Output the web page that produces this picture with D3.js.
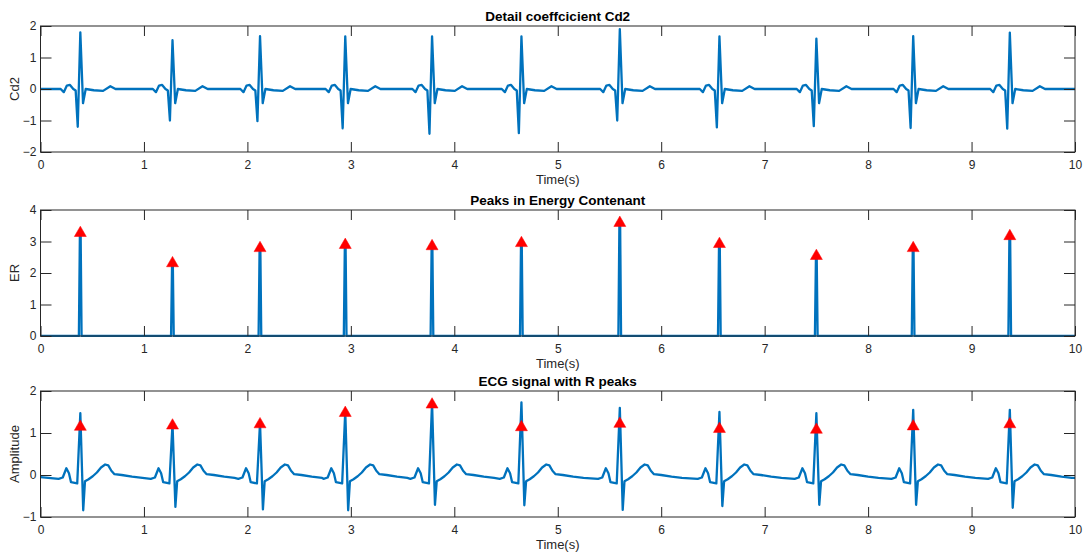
<!DOCTYPE html>
<html>
<head>
<meta charset="utf-8">
<script src="https://cdn.jsdelivr.net/npm/d3@7"></script>
<style>
  html, body { margin: 0; padding: 0; background: #fff; }
  svg { display: block; }
  .tick text { font-family: "Liberation Sans", Arial, sans-serif; font-size: 12px; fill: #262626; }
  .tick line { stroke: #262626; }
  .domain { display: none; }
</style>
</head>
<body>
<div id="chart"></div>
<script>
(function () {
  'use strict';

  const W = 1087, H = 557;
  const BLUE = '#0072BD';
  const AXIS = '#262626';
  const FONT = '"Liberation Sans", Arial, sans-serif';

  // R peak times (s)
  const rTimes = [0.385, 1.276, 2.122, 2.946, 3.785, 4.649, 5.600, 6.563, 7.500, 8.436, 9.370];

  // Detail coefficient Cd2: per-beat max / min
  const cd2Max = [1.80, 1.55, 1.68, 1.67, 1.67, 1.67, 1.90, 1.67, 1.60, 1.68, 1.79];
  const cd2Min = [-1.20, -1.00, -1.02, -1.25, -1.42, -1.40, -1.00, -1.22, -1.18, -1.24, -1.26];
  // Cd2 beat shape: [offset from R (s), value]; strings pick the per-beat value
  const cd2Shape = [
    [-0.19, 0], [-0.16, -0.10], [-0.13, 0.11], [-0.10, 0.13], [-0.068, 0.0],
    [-0.045, -0.05], [-0.025, 'min'], [0, 'max'], [0.026, -0.45], [0.052, 0.0],
    [0.13, -0.04], [0.22, -0.06], [0.29, 0.09], [0.34, 0.0], [0.6, 0.0]
  ];

  // Energy peaks (ER)
  const erPeaks = [3.30, 2.34, 2.82, 2.92, 2.88, 2.98, 3.62, 2.95, 2.57, 2.82, 3.20];
  const erShape = [[-0.014, 0], [-0.004, 'peak'], [0.003, 'peak'], [0.012, 0]];

  // ECG: R amplitude, S depth, and detected R-peak marker values
  const ecgR = [1.47, 1.22, 1.24, 1.52, 1.72, 1.73, 1.60, 1.50, 1.47, 1.55, 1.55];
  const ecgS = [-0.84, -0.76, -0.82, -0.84, -0.71, -0.72, -0.83, -0.74, -0.71, -0.71, -0.78];
  const ecgMarks = [1.17, 1.20, 1.23, 1.50, 1.70, 1.16, 1.24, 1.12, 1.10, 1.18, 1.23];
  const ecgShape = [
    [-0.21, -0.09], [-0.17, -0.06], [-0.135, 0.16], [-0.11, 0.04], [-0.09, -0.17],
    [-0.03, -0.20], [0, 'R'], [0.028, 'S'], [0.045, -0.15], [0.08, -0.10],
    [0.12, -0.03], [0.16, 0.06], [0.20, 0.18], [0.24, 0.25], [0.27, 0.23],
    [0.30, 0.10], [0.33, 0.02], [0.40, 0.00], [0.50, -0.04], [0.60, -0.07]
  ];

  const xTicks = d3.range(0, 11);

  function buildSeries(shape, lookup, start, end) {
    const pts = [[0, start]];
    rTimes.forEach((t, i) => {
      shape.forEach(([dt, v]) => {
        pts.push([t + dt, typeof v === 'string' ? lookup[v][i] : v]);
      });
    });
    pts.push([10, end]);
    return pts;
  }

  const panels = [
    {
      title: 'Detail coeffcicient Cd2', ylabel: 'Cd2', top: 26, yDomain: [-2, 2],
      yTicks: [-2, -1, 0, 1, 2],
      data: buildSeries(cd2Shape, { min: cd2Min, max: cd2Max }, 0, 0),
      marks: null
    },
    {
      title: 'Peaks in Energy Contenant', ylabel: 'ER', top: 210, yDomain: [0, 4],
      yTicks: [0, 1, 2, 3, 4],
      data: buildSeries(erShape, { peak: erPeaks }, 0, 0),
      marks: erPeaks
    },
    {
      title: 'ECG signal with R peaks', ylabel: 'Amplitude', top: 391, yDomain: [-1, 2],
      yTicks: [-1, 0, 1, 2],
      data: buildSeries(ecgShape, { R: ecgR, S: ecgS }, -0.05, -0.07),
      marks: ecgMarks
    }
  ];

  const left = 40.5, right = 1075, ph = 126;

  const svg = d3.select('#chart').append('svg')
    .attr('width', W).attr('height', H);

  const x = d3.scaleLinear().domain([0, 10]).range([left, right]);

  panels.forEach(p => {
    const y = d3.scaleLinear().domain(p.yDomain).range([p.top + ph, p.top]);
    const g = svg.append('g');

    const clipId = 'clip-' + p.ylabel;
    svg.append('clipPath').attr('id', clipId)
      .append('rect').attr('x', left).attr('y', p.top - 1)
      .attr('width', right - left).attr('height', ph + 2);

    // line
    g.append('path')
      .datum(p.data)
      .attr('clip-path', `url(#${clipId})`)
      .attr('fill', 'none')
      .attr('stroke', BLUE)
      .attr('stroke-width', 2.3)
      .attr('stroke-linejoin', 'round')
      .attr('d', d3.line().x(d => x(d[0])).y(d => y(d[1])));

    // axes (ticks inward)
    g.append('g').attr('transform', `translate(0,${p.top + ph})`)
      .call(d3.axisBottom(x).tickValues(xTicks).tickSize(-10).tickFormat(d3.format('d')))
      .call(a => a.selectAll('.tick text').attr('y', 16.5).attr('dy', null));
    g.append('g').attr('transform', `translate(0,${p.top})`)
      .call(d3.axisTop(x).tickValues(xTicks).tickSize(-10).tickFormat(''));
    g.append('g').attr('transform', `translate(${left},0)`)
      .call(d3.axisLeft(y).tickValues(p.yTicks).tickSize(-11).tickFormat(d3.format('d')))
      .call(a => a.selectAll('.tick text').attr('x', -4));
    g.append('g').attr('transform', `translate(${right},0)`)
      .call(d3.axisRight(y).tickValues(p.yTicks).tickSize(-11).tickFormat(''));

    g.append('rect')
      .attr('x', left).attr('y', p.top)
      .attr('width', right - left).attr('height', ph)
      .attr('fill', 'none').attr('stroke', AXIS).attr('stroke-width', 1);

    // markers
    if (p.marks) {
      g.selectAll('path.mark')
        .data(p.marks)
        .join('path')
        .attr('class', 'mark')
        .attr('transform', (d, i) => `translate(${x(rTimes[i])},${y(d) + 1})`)
        .attr('d', d3.symbol(d3.symbolTriangle, 62))
        .attr('fill', '#FF0000')
        .attr('stroke', '#FF0000')
        .attr('stroke-width', 0.5);
    }

    // title
    g.append('text')
      .attr('x', (left + right) / 2).attr('y', p.top - 5.5)
      .attr('text-anchor', 'middle')
      .attr('font-family', FONT).attr('font-size', 13.5).attr('font-weight', 'bold')
      .attr('fill', '#000')
      .text(p.title);

    // x label
    g.append('text')
      .attr('x', (left + right) / 2).attr('y', p.top + ph + 32)
      .attr('text-anchor', 'middle')
      .attr('font-family', FONT).attr('font-size', 13)
      .attr('fill', AXIS)
      .text('Time(s)');

    // y label
    g.append('text')
      .attr('transform', `translate(19,${p.top + ph / 2}) rotate(-90)`)
      .attr('text-anchor', 'middle')
      .attr('font-family', FONT).attr('font-size', 13)
      .attr('fill', AXIS)
      .text(p.ylabel);
  });
})();
</script>
</body>
</html>
